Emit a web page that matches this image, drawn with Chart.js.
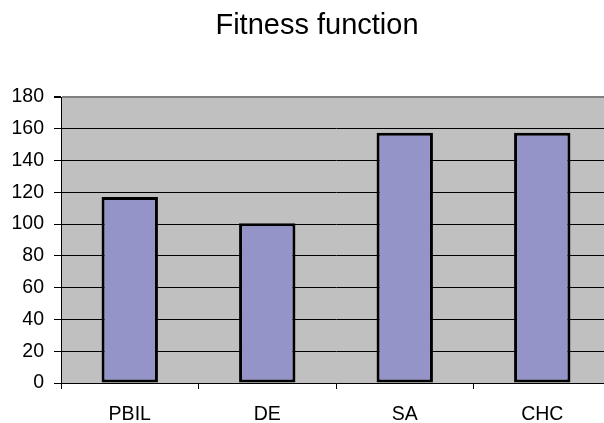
<!DOCTYPE html>
<html>
<head>
<meta charset="utf-8">
<title>Fitness function</title>
<script src="https://cdn.jsdelivr.net/npm/chart.js@4/dist/chart.umd.min.js"></script>
<style>
  html, body { margin: 0; padding: 0; background: #fff; overflow: hidden; }
  #wrap { width: 604px; height: 423px; overflow: hidden; }
  canvas { display: block; }
</style>
</head>
<body>
<div id="wrap"><canvas id="c" width="620" height="423"></canvas></div>
<script>
// Algorithms compared and their fitness values
const algorithms = ['PBIL', 'DE', 'SA', 'CHC'];
const fitness = [117, 100.5, 157.5, 157.5];
const yTicks = [0, 20, 40, 60, 80, 100, 120, 140, 160, 180];
const chartTitle = 'Fitness function';

const FONT = '"Liberation Sans", Arial, sans-serif';

// Grey plot area behind the bars
const plotBackground = {
  id: 'plotBackground',
  beforeDraw(chart) {
    const { ctx, chartArea: a } = chart;
    ctx.save();
    ctx.fillStyle = '#C0C0C0';
    ctx.fillRect(a.left, a.top, a.right - a.left, a.bottom - a.top);
    ctx.restore();
  }
};

// Heading centred over the whole figure (including the axis label column)
const heading = {
  id: 'heading',
  afterDraw(chart) {
    const { ctx } = chart;
    ctx.save();
    ctx.fillStyle = '#000';
    ctx.font = '29px ' + FONT;
    ctx.textAlign = 'center';
    ctx.textBaseline = 'alphabetic';
    ctx.fillText(chartTitle, 317, 33.5);
    ctx.restore();
  }
};

new Chart(document.getElementById('c'), {
  type: 'bar',
  data: {
    labels: algorithms,
    datasets: [{
      data: fitness,
      backgroundColor: '#9494C8',
      borderColor: '#000000',
      borderWidth: 3,
      borderSkipped: false,
      barPercentage: 0.41,
      categoryPercentage: 1.0
    }]
  },
  options: {
    responsive: false,
    devicePixelRatio: 1,
    animation: false,
    layout: { padding: { left: 0, right: 9, top: 97, bottom: 0 } },
    plugins: {
      legend: { display: false },
      tooltip: { enabled: false },
      title: { display: false }
    },
    scales: {
      x: {
        grid: {
          display: true,
          drawOnChartArea: false,
          drawTicks: true,
          tickLength: 6,
          tickColor: '#000',
          offset: true
        },
        border: { display: true, color: '#000', width: 1 },
        ticks: {
          color: '#000',
          padding: 14,
          font: { family: FONT, size: 19.5 }
        },
        afterFit(scale) { scale.height = 40; }
      },
      y: {
        min: 0,
        max: 180,
        afterBuildTicks(scale) { scale.ticks = yTicks.map(v => ({ value: v })); },
        grid: {
          color: ctx => (ctx.tick && ctx.tick.value === 180) ? '#808080' : '#000',
          lineWidth: ctx => (ctx.tick && ctx.tick.value === 180) ? 2 : 1,
          tickColor: '#000',
          tickLength: 7,
          drawTicks: true
        },
        border: { display: true, color: '#000', width: 1 },
        ticks: {
          color: '#000',
          padding: 10,
          font: { family: FONT, size: 19.5 }
        },
        afterFit(scale) { scale.width = 61; }
      }
    }
  },
  plugins: [plotBackground, heading]
});
</script>
</body>
</html>
